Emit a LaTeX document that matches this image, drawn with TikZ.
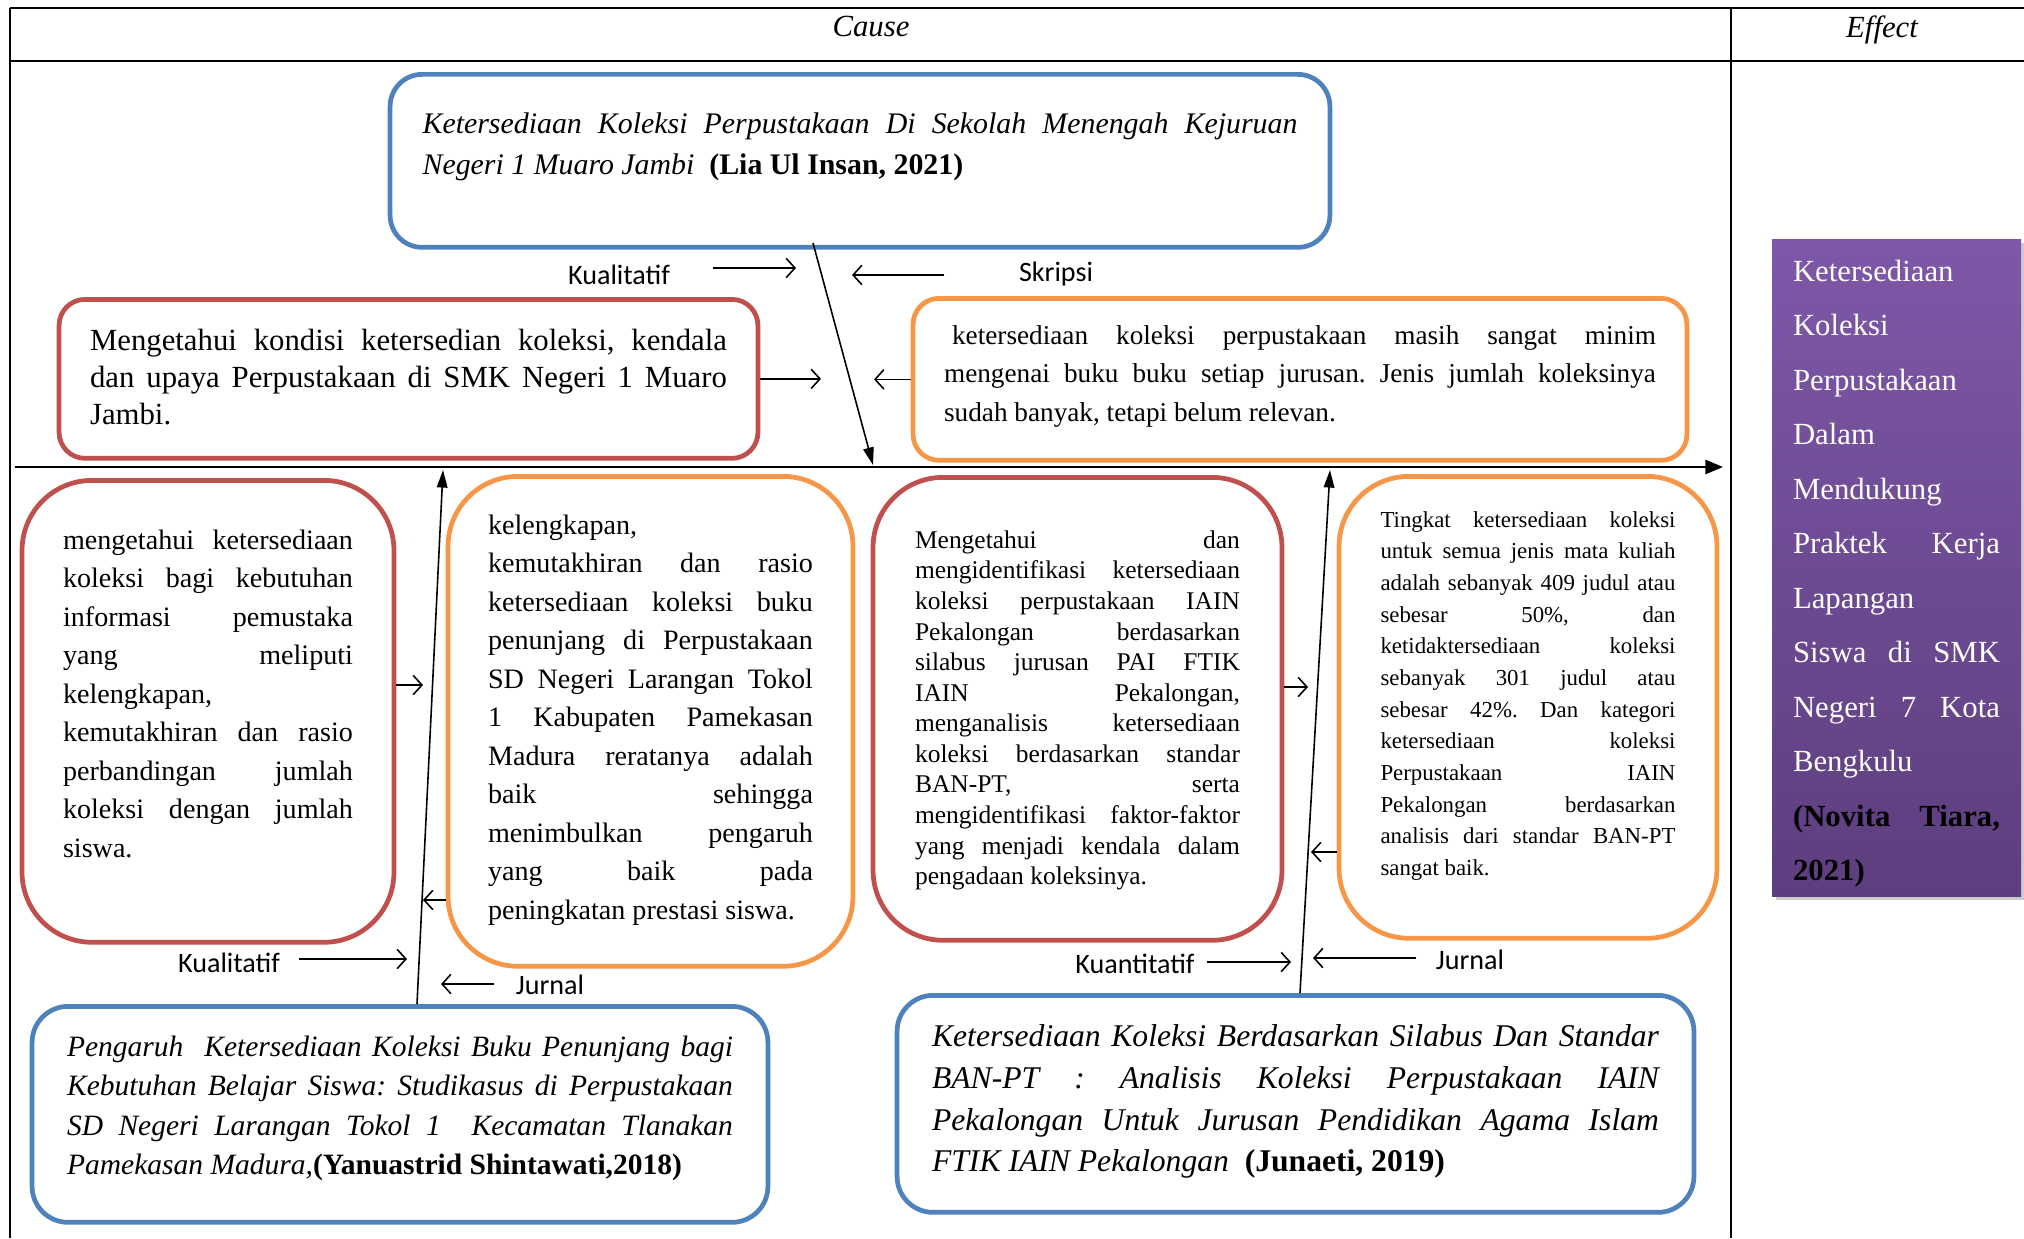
\documentclass[tikz,border=0pt]{standalone}
\usepackage{fontspec}
\setmainfont{Liberation Serif}
\newfontfamily\calibfont{Carlito}
\usepackage{xcolor}
\usepackage{tikz}
\usetikzlibrary{arrows.meta,calc,shadows}
\frenchspacing

\definecolor{boxblue}{RGB}{79,129,189}
\definecolor{boxred}{RGB}{192,80,77}
\definecolor{boxorange}{RGB}{247,150,70}
\definecolor{efftop}{RGB}{126,88,168}
\definecolor{effbot}{RGB}{93,62,126}
\newcommand{\fsz}[2]{\fontsize{#1}{#2}\selectfont\sloppy}

\begin{document}
\begin{tikzpicture}[x=0.02cm,y=-0.02cm,
		frame/.style={line width=1.3pt},
		cbox/.style={draw,line width=2.7pt,anchor=north,inner sep=0pt,align=justify},
		lbl/.style={font=\calibfont\fsz{16}{19},inner sep=0pt},
		lblarrow/.style={line width=.9pt,-{Straight Barb[length=5pt,width=11pt]}},
		bone/.style={line width=.9pt,-{Triangle[length=10pt,width=6pt]}}]
	\useasboundingbox (0,0) rectangle (2024,1238);
	% frame
	\draw[frame] (10,8) -- (2024,8);
	\draw[frame] (10,61) -- (2024,61);
	\draw[frame] (10,8) -- (10,1238);
	\draw[frame] (1731,8) -- (1731,1238);
	\node[font=\itshape\fsz{17.5}{20},anchor=base] (cause) at (871,36) {Cause};
	\node[font=\itshape\fsz{17.5}{20},anchor=base] (effect) at (1882,37) {Effect};
	% cause boxes
	\node[cbox,draw=boxblue,rounded corners=.64cm,minimum width=18.8cm,text width=17.5cm,
		text height=1.18cm,text depth=2.28cm,font=\itshape\fsz{17}{23.3}] (lia) at (860,72)
		{Ketersediaan Koleksi Perpustakaan Di Sekolah Menengah Kejuruan\linebreak
		Negeri 1 Muaro Jambi\ \ \textbf{\upshape(Lia Ul Insan, 2021)}};
	\node[cbox,draw=boxred,rounded corners=.52cm,minimum width=13.98cm,text width=12.74cm,
		text height=1.02cm,text depth=2.16cm,font=\fsz{17.5}{21}] (tl) at (408.5,297)
		{Mengetahui kondisi ketersedian koleksi, kendala\linebreak
		dan upaya Perpustakaan di SMK Negeri 1 Muaro\linebreak
		Jambi.};
	\node[cbox,draw=boxorange,rounded corners=.52cm,minimum width=15.48cm,text width=14.24cm,
		text height=.92cm,text depth=2.32cm,font=\fsz{15.5}{21.9}] (tr) at (1300,296)
		{\hspace*{.16cm}ketersediaan koleksi perpustakaan masih sangat minim\linebreak
		mengenai buku buku setiap jurusan. Jenis jumlah koleksinya\linebreak
		sudah banyak, tetapi belum relevan.};
	\node[cbox,draw=boxred,rounded corners=1.4cm,minimum width=7.44cm,text width=5.8cm,
		text height=1.38cm,text depth=7.86cm,font=\fsz{16}{21.9}] (ml) at (208,478)
		{mengetahui ketersediaan\linebreak
		koleksi bagi kebutuhan\linebreak
		informasi pemustaka\linebreak
		yang meliputi\linebreak
		kelengkapan,\newline
		kemutakhiran dan rasio\linebreak
		perbandingan jumlah\linebreak
		koleksi dengan jumlah\linebreak
		siswa.};
	\node[cbox,draw=boxorange,rounded corners=1.4cm,minimum width=8.1cm,text width=6.5cm,
		text height=1.16cm,text depth=8.64cm,font=\fsz{16}{21.9}] (mo) at (650.5,474)
		{kelengkapan,\newline
		kemutakhiran dan rasio\linebreak
		ketersediaan koleksi buku\linebreak
		penunjang di Perpustakaan\linebreak
		SD Negeri Larangan Tokol\linebreak
		1 Kabupaten Pamekasan\linebreak
		Madura reratanya adalah\linebreak
		baik sehingga\linebreak
		menimbulkan pengaruh\linebreak
		yang baik pada\linebreak
		peningkatan prestasi siswa.};
	\node[cbox,draw=boxred,rounded corners=1.4cm,minimum width=8.18cm,text width=6.5cm,
		text height=1.42cm,text depth=7.84cm,font=\fsz{14.5}{17.4}] (mr) at (1077.5,475)
		{Mengetahui dan\linebreak
		mengidentifikasi ketersediaan\linebreak
		koleksi perpustakaan IAIN\linebreak
		Pekalongan berdasarkan\linebreak
		silabus jurusan PAI FTIK\linebreak
		IAIN Pekalongan,\linebreak
		menganalisis ketersediaan\linebreak
		koleksi berdasarkan standar\linebreak
		BAN-PT, serta\linebreak
		mengidentifikasi faktor-faktor\linebreak
		yang menjadi kendala dalam\linebreak
		pengadaan koleksinya.};
	\node[cbox,draw=boxorange,rounded corners=1.4cm,minimum width=7.56cm,text width=5.9cm,
		text height=1.02cm,text depth=8.22cm,font=\fsz{13}{18}] (ro) at (1528,474)
		{Tingkat ketersediaan koleksi\linebreak
		untuk semua jenis mata kuliah\linebreak
		adalah sebanyak 409 judul atau\linebreak
		sebesar 50\%, dan\linebreak
		ketidaktersediaan koleksi\linebreak
		sebanyak 301 judul atau\linebreak
		sebesar 42\%. Dan kategori\linebreak
		ketersediaan koleksi\linebreak
		Perpustakaan IAIN\linebreak
		Pekalongan berdasarkan\linebreak
		analisis dari standar BAN-PT\linebreak
		sangat baik.};
	\node[cbox,draw=boxblue,rounded corners=.72cm,minimum width=14.72cm,text width=13.32cm,
		text height=1cm,text depth=3.32cm,font=\itshape\fsz{16.8}{22.5}] (bl) at (400,1004)
		{Pengaruh\ \ Ketersediaan Koleksi Buku Penunjang bagi\linebreak
		Kebutuhan Belajar Siswa: Studikasus di Perpustakaan\linebreak
		SD Negeri Larangan Tokol 1\ \ Kecamatan Tlanakan\linebreak
		Pamekasan Madura,\textbf{\upshape(Yanuastrid Shintawati,2018)}};
	\node[cbox,draw=boxblue,rounded corners=.72cm,minimum width=15.94cm,text width=14.54cm,
		text height=1.02cm,text depth=3.32cm,font=\itshape\fsz{18}{23.8}] (br) at (1295.5,993)
		{Ketersediaan Koleksi Berdasarkan Silabus Dan Standar\linebreak
		BAN-PT : Analisis Koleksi Perpustakaan IAIN\linebreak
		Pekalongan Untuk Jurusan Pendidikan Agama Islam\linebreak
		FTIK IAIN Pekalongan\ \ \textbf{\upshape(Junaeti, 2019)}};
	% effect
	\node[anchor=north,inner sep=0pt,align=justify,top color=efftop,bottom color=effbot,
		drop shadow={shadow xshift=2pt,shadow yshift=-2pt,opacity=.4},text=white,
		minimum width=4.98cm,text width=4.14cm,text height=.84cm,text depth=12.3cm,
		font=\fsz{17.5}{31}] (eff) at (1896.5,239)
		{Ketersediaan\newline
		Koleksi\newline
		Perpustakaan\newline
		Dalam\newline
		Mendukung\newline
		Praktek Kerja\linebreak
		Lapangan\newline
		Siswa di SMK\linebreak
		Negeri 7 Kota\linebreak
		Bengkulu\newline
		\textcolor{black}{\textbf{(Novita Tiara,}}\linebreak
		\textcolor{black}{\textbf{2021)}}};
	% labels
	\node[lbl] (kual1) at (619,275) {Kualitatif};
	\node[lbl] (skr) at (1056,274) {Skripsi};
	\node[lbl] (kual2) at (229,963) {Kualitatif};
	\node[lbl] (jur1) at (550,985) {Jurnal};
	\node[lbl] (kuan) at (1135,964) {Kuantitatif};
	\node[lbl] (jur2) at (1470,960) {Jurnal};
	% spine and bones
	\coordinate (sp0) at (15,467);
	\coordinate (sp1) at (1723,467);
	\coordinate (tb0) at (813,243);
	\coordinate (tb1) at (873,465);
	\coordinate (lb0) at (417,1004);
	\coordinate (lb1) at (443,470);
	\coordinate (rb0) at (1300,993);
	\coordinate (rb1) at (1330,470);
	\coordinate (k1) at (796,268);
	\coordinate (s1) at (852,275);
	\coordinate (a1) at (821,376);
	\coordinate (a2) at (874,377);
	\coordinate (a3) at (423,685);
	\coordinate (a4) at (423,900);
	\coordinate (a5) at (1308,687);
	\coordinate (a6) at (1311,852);
	\coordinate (k2) at (407,959);
	\coordinate (j1) at (441,984);
	\coordinate (q1) at (1291,962);
	\coordinate (j2) at (1313,958);
	\draw[line width=1.2pt,-{Triangle[length=10pt,width=8pt]}] (sp0) -- (sp1);
	\draw[bone] (tb0) -- (tb1);
	\draw[bone] (lb0) -- (lb1);
	\draw[bone] (rb0) -- (rb1);
	\draw[lblarrow] ($(kual1)+(94,-7)$) -- (k1);
	\draw[lblarrow] ($(skr)+(-112,1)$) -- (s1);
	\draw[lblarrow] (tl.east) -- (tl.east -| a1);
	\draw[lblarrow] (tr.west) -- (tr.west -| a2);
	\draw[lblarrow] (ml.east |- a3) -- (a3);
	\draw[lblarrow] (mo.west |- a4) -- (a4);
	\draw[lblarrow] ($(kual2)+(70,-4)$) -- (k2);
	\draw[lblarrow] ($(jur1)+(-56,-1)$) -- (j1);
	\draw[lblarrow] (mr.east |- a5) -- (a5);
	\draw[lblarrow] (ro.west |- a6) -- (a6);
	\draw[lblarrow] ($(kuan)+(72,-2)$) -- (q1);
	\draw[lblarrow] ($(jur2)+(-54,-2)$) -- (j2);
\end{tikzpicture}
\end{document}
